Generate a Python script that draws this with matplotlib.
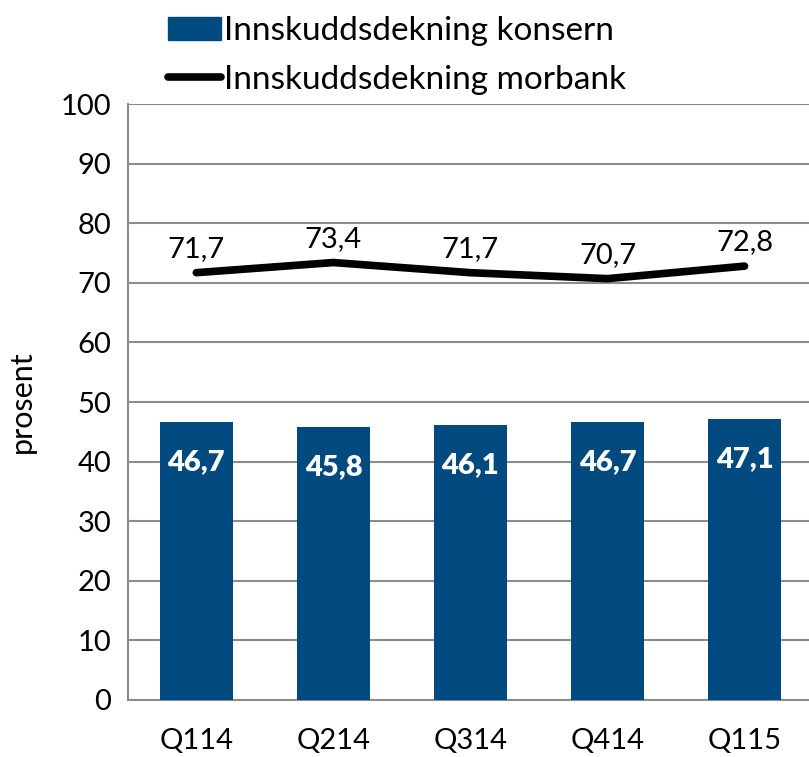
import matplotlib
matplotlib.use("Agg")
import matplotlib.pyplot as plt
from matplotlib.patches import Patch
from matplotlib.lines import Line2D

quarters = ["Q114", "Q214", "Q314", "Q414", "Q115"]
konsern = [46.7, 45.8, 46.1, 46.7, 47.1]
morbank = [71.7, 73.4, 71.7, 70.7, 72.8]

plt.rcParams['font.family'] = ['Lato', 'DejaVu Sans']

fig = plt.figure(figsize=(8.09, 7.57), dpi=100)
ax = fig.add_axes([0.158, 0.0753, 0.847, 0.7873])

bar_color = '#004A80'
x = list(range(len(quarters)))
bars = ax.bar(x, konsern, width=0.53, color=bar_color, zorder=3)
ax.plot(x, morbank, color='black', linewidth=5.5, solid_capstyle='round', zorder=4)

for xi, v in zip(x, konsern):
    ax.annotate(f"{v:.1f}".replace('.', ','), (xi, v), xytext=(0, -29),
                textcoords='offset points', ha='center', va='center',
                color='white', fontsize=21, fontweight='heavy', zorder=5)
for xi, v in zip(x, morbank):
    ax.annotate(f"{v:.1f}".replace('.', ','), (xi, v), xytext=(0, 17),
                textcoords='offset points', ha='center', va='center',
                color='black', fontsize=21, zorder=5)

ax.set_xlim(-0.5, len(quarters) - 0.5)
ax.set_ylim(0, 100)
ax.set_yticks(range(0, 101, 10))
ax.set_xticks(x)
ax.set_xticklabels(quarters)
ax.tick_params(axis='both', length=0, labelsize=21, pad=12)
ax.tick_params(axis='x', pad=20)
ax.yaxis.grid(True, color='#8c8c8c', linewidth=1.5, zorder=0)
ax.set_axisbelow(True)
for side in ['top', 'right']:
    ax.spines[side].set_visible(False)
ax.spines['left'].set_color('#8c8c8c')
ax.spines['bottom'].set_color('#8c8c8c')
ax.spines['left'].set_linewidth(1.5)
ax.spines['bottom'].set_linewidth(1.5)
ax.set_ylabel("prosent", fontsize=22, labelpad=18)

handles = [Patch(color=bar_color, label="Innskuddsdekning konsern"),
           Line2D([0], [0], color='black', linewidth=5.5, solid_capstyle='round',
                  label="Innskuddsdekning morbank")]
fig.legend(handles=handles, loc='upper left', bbox_to_anchor=(0.17, 1.018),
           frameon=False, fontsize=24, handlelength=1.6, handletextpad=0.1,
           labelspacing=0.55)

fig.savefig("out.png", dpi=100)
